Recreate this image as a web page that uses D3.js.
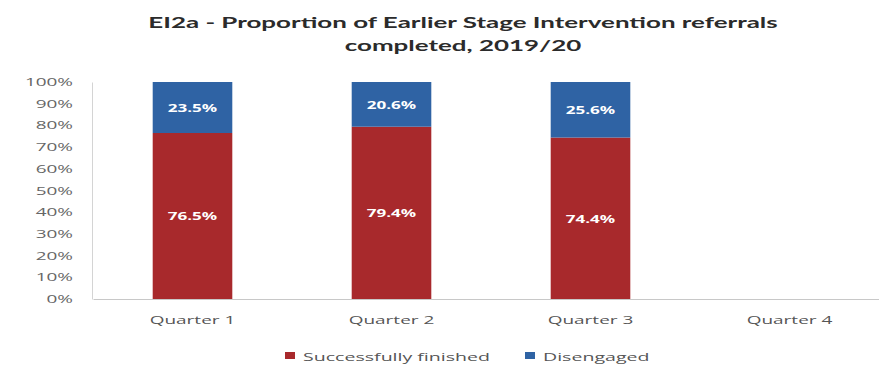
<!DOCTYPE html>
<html>
<head>
<meta charset="utf-8">
<script src="https://cdn.jsdelivr.net/npm/d3@7/dist/d3.min.js"></script>
<style>
  html, body { margin: 0; padding: 0; background: #fff; }
  svg { display: block; }
</style>
</head>
<body>
<svg id="chart" width="879" height="366"></svg>
<script>
const quarters = ["Quarter 1", "Quarter 2", "Quarter 3", "Quarter 4"];
const finished = [76.5, 79.4, 74.4, null];
const disengaged = [23.5, 20.6, 25.6, null];
const yTicks = [0, 10, 20, 30, 40, 50, 60, 70, 80, 90, 100];
const seriesNames = ["Successfully finished", "Disengaged"];
const seriesColors = ["#a8292c", "#2f63a4"];
const titleLines = ["EI2a - Proportion of Earlier Stage Intervention referrals", "completed, 2019/20"];

const svg = d3.select("#chart");
const font = "'Open Sans', 'DejaVu Sans', sans-serif";

// The chart's typography is horizontally widened; stretch each text run by a factor.
function widen(sel, f) {
  sel.each(function () {
    const w = this.getComputedTextLength();
    d3.select(this).attr("textLength", w * f).attr("lengthAdjust", "spacingAndGlyphs");
  });
}

const plotLeft = 93, plotRight = 889, plotTop = 82, plotBottom = 299;

const x = d3.scaleBand().domain(quarters).range([plotLeft, plotRight]).paddingInner(0.6).paddingOuter(0.3);
const y = d3.scaleLinear().domain([0, 100]).range([plotBottom, plotTop]);

// Title
titleLines.forEach((line, i) => {
  svg.append("text")
    .attr("x", 463).attr("y", 28 + i * 23)
    .attr("text-anchor", "middle")
    .attr("font-family", "Lato, 'Open Sans', sans-serif")
    .attr("font-weight", "bold")
    .attr("font-size", 16)
    .attr("fill", "#2b2b2b")
    .text(line)
    .call(widen, 1.62);
});

// Y axis
const yAxis = svg.append("g")
  .attr("transform", `translate(${plotLeft - 1},0)`)
  .call(d3.axisLeft(y).tickValues(yTicks).tickFormat(d => d + "%").tickSize(0).tickPadding(19));
yAxis.select(".domain").attr("stroke", "#d4d4d4");
yAxis.selectAll("text")
  .attr("font-family", font)
  .attr("font-size", 11)
  .attr("fill", "#666")
  .call(widen, 1.72);

// X axis
const xAxis = svg.append("g")
  .attr("transform", `translate(0,${plotBottom})`)
  .call(d3.axisBottom(x).tickSize(0).tickPadding(17));
xAxis.select(".domain").attr("stroke", "#c8c8c8");
xAxis.selectAll("text")
  .attr("font-family", font)
  .attr("font-size", 11.5)
  .attr("fill", "#555")
  .call(widen, 1.65);

// Stacked bars
const rows = quarters.map((q, i) => ({ q, finished: finished[i], disengaged: disengaged[i] }))
  .filter(d => d.finished != null);
const stack = d3.stack().keys(["finished", "disengaged"]);
const layers = stack(rows);

layers.forEach((layer, li) => {
  svg.append("g").selectAll("rect")
    .data(layer)
    .join("rect")
    .attr("x", d => x(d.data.q))
    .attr("width", x.bandwidth())
    .attr("y", d => y(d[1]))
    .attr("height", d => y(d[0]) - y(d[1]))
    .attr("fill", seriesColors[li]);

  svg.append("g").selectAll("text")
    .data(layer)
    .join("text")
    .attr("x", d => x(d.data.q) + x.bandwidth() / 2)
    .attr("y", d => (y(d[0]) + y(d[1])) / 2 + 4.5)
    .attr("text-anchor", "middle")
    .attr("font-family", font)
    .attr("font-weight", "bold")
    .attr("font-size", 11)
    .attr("fill", "#fff")
    .text(d => (d[1] - d[0]).toFixed(1) + "%")
    .call(widen, 1.55);
});

// Legend
const legendItems = [
  { name: seriesNames[0], color: seriesColors[0], x: 285 },
  { name: seriesNames[1], color: seriesColors[1], x: 525 }
];
const lg = svg.append("g");
legendItems.forEach(it => {
  lg.append("rect").attr("x", it.x).attr("y", 352).attr("width", 10).attr("height", 7).attr("fill", it.color);
  lg.append("text").attr("x", it.x + 18).attr("y", 361)
    .attr("font-family", font).attr("font-size", 11.5).attr("fill", "#555")
    .text(it.name)
    .call(widen, 1.7);
});
</script>
</body>
</html>
